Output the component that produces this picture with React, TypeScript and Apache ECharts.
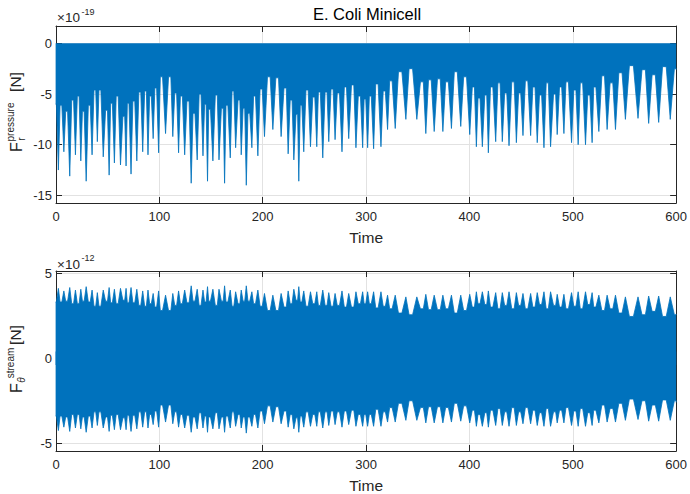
import React, { useEffect, useRef } from "react";
import * as echarts from "echarts";

const chartTitle = "E. Coli Minicell";
const xLabel = "Time";
const xTicks = [0, 100, 200, 300, 400, 500, 600];
const pressureYTicks = [-15, -10, -5, 0];
const streamYTicks = [-5, 0, 5];

// sample times of the envelope (alternating: finger top / spike)
const envTimes = [
  0, 2.3, 4.8, 7.6, 10.3, 13.3, 16.1, 18.8, 21.5, 24.0,
  26.4, 29.2, 32.2, 34.9, 37.6, 40.0, 42.5, 45.7, 48.9, 51.4,
  53.7, 56.5, 59.2, 62.4, 65.6, 67.8, 69.8, 72.6, 75.3, 78.2,
  81.1, 83.9, 86.6, 89.0, 91.4, 94.0, 96.5, 99.3, 102.0, 106.0,
  110.0, 113.0, 115.8, 118.6, 121.3, 124.5, 127.7, 130.8, 133.5, 136.6,
  139.4, 142.2, 144.5, 146.6, 148.6, 151.8, 155.1, 157.7, 160.9, 163.1,
  165.4, 168.6, 171.2, 173.8, 177.0, 179.2, 181.8, 184.1, 186.6, 189.5,
  192.1, 195.3, 198.5, 201.7, 205.9, 209.8, 214.0, 217.8, 221.7, 224.6,
  227.5, 230.1, 233.0, 234.9, 237.1, 239.7, 242.9, 246.2, 249.4, 252.3,
  254.8, 258.1, 261.3, 263.9, 267.1, 270.0, 273.2, 276.7, 280.0, 283.2,
  287.0, 290.2, 293.5, 296.7, 298.9, 301.5, 304.1, 307.3, 310.5, 314.4,
  317.6, 320.8, 324.0, 328.2, 333.0, 338.5, 343.3, 349.1, 354.0, 357.8,
  361.7, 365.9, 370.4, 374.3, 378.3, 382.6, 386.8, 391.6, 395.8, 400.3,
  403.8, 406.7, 409.3, 412.5, 415.8, 418.3, 421.5, 425.4, 428.6, 431.8,
  435.1, 438.3, 442.1, 445.4, 448.6, 451.8, 455.3, 459.2, 462.4, 465.6,
  468.8, 472.1, 475.3, 478.5, 482.4, 484.9, 488.2, 491.4, 494.6, 498.8,
  502.0, 505.2, 508.4, 512.3, 515.5, 518.7, 521.3, 525.2, 529.4, 533.2,
  537.4, 541.3, 546.1, 550.9, 556.7, 563.1, 568.6, 573.4, 578.3, 583.1,
  588.6, 594.3, 599.2, 600,
];

// F_r^pressure lower envelope (x 1e-19 N)
const pressureEnvelope = [
  -6.0, -12.5, -6.1, -10.7, -6.7, -13.1, -5.6, -11.0, -5.2, -11.6,
  -6.7, -13.6, -6.1, -11.0, -4.6, -9.7, -4.6, -11.2, -6.6, -13.0,
  -5.9, -11.8, -5.2, -12.0, -7.2, -12.1, -5.9, -12.9, -5.7, -11.6,
  -4.8, -10.7, -4.7, -11.0, -5.2, -9.4, -4.4, -10.8, -3.3, -8.9,
  -3.3, -9.2, -4.9, -10.8, -5.2, -11.0, -5.7, -13.8, -6.9, -11.5,
  -5.0, -11.1, -6.0, -13.6, -6.5, -11.6, -5.1, -11.5, -6.4, -13.8,
  -6.1, -11.3, -4.7, -10.3, -5.6, -11.0, -6.4, -14.0, -6.9, -10.3,
  -5.2, -11.1, -4.5, -9.2, -3.3, -8.5, -3.4, -9.2, -4.4, -10.9,
  -5.6, -11.5, -7.0, -13.6, -6.1, -10.7, -4.6, -10.2, -5.3, -10.2,
  -4.8, -11.3, -4.8, -9.7, -4.5, -9.5, -4.9, -10.7, -4.3, -9.4,
  -4.1, -10.3, -5.2, -10.3, -5.5, -10.3, -5.2, -10.4, -4.0, -10.2,
  -4.7, -8.5, -3.7, -8.4, -2.8, -7.5, -2.5, -7.5, -3.8, -8.9,
  -3.6, -8.7, -3.5, -8.7, -3.8, -8.4, -2.8, -8.2, -3.3, -9.0,
  -4.3, -10.2, -5.4, -10.2, -5.1, -10.8, -4.3, -9.7, -3.9, -9.7,
  -4.9, -10.1, -3.8, -9.8, -4.9, -9.1, -3.7, -9.1, -4.3, -9.8,
  -5.1, -10.3, -3.9, -10.2, -5.0, -9.0, -4.3, -8.9, -3.8, -9.8,
  -4.6, -10.0, -3.9, -10.0, -5.1, -9.8, -4.3, -8.7, -3.2, -8.5,
  -3.9, -8.5, -2.9, -7.5, -2.2, -7.4, -2.6, -7.9, -3.1, -7.8,
  -2.3, -7.5, -2.5, -2.6,
];

// F_theta^stream upper / lower envelopes (x 1e-12 N)
const streamUpper = [
  3.3, 4.1, 3.3, 3.95, 3.35, 4.15, 3.2, 4.0, 3.2, 4.05,
  3.35, 4.2, 3.3, 4.0, 3.05, 3.85, 3.05, 4.0, 3.35, 4.15,
  3.25, 4.05, 3.2, 4.1, 3.4, 4.1, 3.25, 4.15, 3.25, 4.05,
  3.1, 3.95, 3.05, 4.0, 3.2, 3.8, 3.0, 3.95, 2.8, 3.7,
  2.8, 3.8, 3.1, 3.95, 3.2, 4.0, 3.25, 4.25, 3.35, 4.05,
  3.1, 4.0, 3.3, 4.2, 3.35, 4.05, 3.1, 4.05, 3.35, 4.25,
  3.3, 4.0, 3.05, 3.9, 3.2, 4.0, 3.35, 4.25, 3.35, 3.9,
  3.2, 4.0, 3.05, 3.8, 2.8, 3.7, 2.8, 3.8, 3.0, 3.95,
  3.2, 4.05, 3.4, 4.2, 3.3, 3.95, 3.05, 3.9, 3.2, 3.9,
  3.1, 4.0, 3.1, 3.85, 3.05, 3.8, 3.1, 3.95, 3.0, 3.8,
  3.0, 3.9, 3.2, 3.9, 3.2, 3.9, 3.2, 3.9, 2.95, 3.9,
  3.05, 3.7, 2.9, 3.7, 2.65, 3.6, 2.55, 3.6, 2.9, 3.75,
  2.85, 3.7, 2.85, 3.7, 2.9, 3.7, 2.65, 3.7, 2.8, 3.75,
  3.0, 3.9, 3.2, 3.9, 3.15, 3.95, 3.0, 3.85, 2.9, 3.85,
  3.1, 3.9, 2.9, 3.85, 3.1, 3.8, 2.9, 3.8, 3.0, 3.85,
  3.15, 3.9, 2.9, 3.9, 3.1, 3.75, 3.0, 3.75, 2.9, 3.85,
  3.05, 3.9, 2.9, 3.9, 3.15, 3.85, 3.0, 3.7, 2.8, 3.7,
  2.9, 3.7, 2.65, 3.6, 2.45, 3.6, 2.55, 3.65, 2.75, 3.65,
  2.45, 3.6, 2.55, 2.6,
];

const streamLower = [
  -3.4, -4.25, -3.4, -4.05, -3.45, -4.3, -3.3, -4.1, -3.3, -4.15,
  -3.45, -4.35, -3.4, -4.1, -3.15, -3.95, -3.15, -4.1, -3.45, -4.3,
  -3.35, -4.2, -3.3, -4.2, -3.5, -4.2, -3.35, -4.3, -3.35, -4.15,
  -3.15, -4.05, -3.15, -4.1, -3.3, -3.9, -3.1, -4.05, -2.75, -3.75,
  -2.75, -3.85, -3.15, -4.05, -3.3, -4.1, -3.35, -4.35, -3.45, -4.15,
  -3.2, -4.1, -3.4, -4.35, -3.45, -4.15, -3.2, -4.15, -3.45, -4.35,
  -3.4, -4.1, -3.15, -4.0, -3.3, -4.1, -3.45, -4.4, -3.45, -4.0,
  -3.3, -4.1, -3.1, -3.85, -2.8, -3.75, -2.85, -3.85, -3.1, -4.05,
  -3.3, -4.15, -3.5, -4.35, -3.4, -4.05, -3.15, -4.0, -3.3, -4.0,
  -3.15, -4.1, -3.15, -3.95, -3.1, -3.9, -3.15, -4.05, -3.1, -3.9,
  -3.05, -4.0, -3.3, -4.0, -3.3, -4.0, -3.3, -4.0, -3.0, -4.0,
  -3.15, -3.75, -2.9, -3.75, -2.65, -3.65, -2.5, -3.65, -2.9, -3.8,
  -2.85, -3.8, -2.85, -3.8, -2.9, -3.75, -2.65, -3.7, -2.8, -3.8,
  -3.05, -4.0, -3.3, -4.0, -3.2, -4.05, -3.05, -3.95, -2.95, -3.95,
  -3.15, -4.0, -2.9, -3.95, -3.15, -3.85, -2.9, -3.85, -3.05, -3.95,
  -3.2, -4.0, -2.95, -4.0, -3.15, -3.8, -3.05, -3.8, -2.9, -3.95,
  -3.1, -4.0, -2.95, -4.0, -3.2, -3.95, -3.05, -3.8, -2.75, -3.75,
  -2.95, -3.75, -2.65, -3.65, -2.4, -3.6, -2.5, -3.7, -2.75, -3.7,
  -2.45, -3.65, -2.5, -2.6,
];

const FONT = "'Liberation Sans', Arial, Helvetica, sans-serif";
const AX = "#262626";
const GRID = "#e2e2e2";
const BLUE = "#0072BD";

function txt(
  text: string,
  x: number,
  y: number,
  size: number,
  opts: { rot?: number; align?: string; italic?: boolean; color?: string } = {}
) {
  const align = opts.align || "center";
  return {
    type: "text",
    x,
    y,
    rotation: opts.rot || 0,
    silent: true,
    style: {
      text,
      fill: opts.color || AX,
      fontSize: size,
      fontFamily: FONT,
      fontStyle: opts.italic ? "italic" : "normal",
      align,
      verticalAlign: "middle",
      textAlign: align,
      textVerticalAlign: "middle",
    },
  };
}

// Turn the envelope samples into drawable points: finger samples (even index)
// are drawn as a short plateau at their read value, spikes as single points.
function envelopePoints(values: number[]) {
  const pts: number[][] = [];
  envTimes.forEach((t, i) => {
    const v = values[i];
    if (i % 2 === 0 && i < envTimes.length - 1) {
      const prev = i > 0 ? envTimes[i - 1] : t;
      const next = envTimes[i + 1];
      const h = 0.16 * (next - prev);
      pts.push([t - h, v], [t + h, v]);
    } else {
      pts.push([t, v]);
    }
  });
  return pts;
}

export default function App() {
  const ref = useRef<HTMLDivElement>(null);
  useEffect(() => {
    const chart = echarts.init(ref.current!, null, { renderer: "svg" });

    const grids = [
      { left: 56, top: 26, width: 622, height: 177 },
      { left: 56, top: 271, width: 622, height: 182 },
    ];

    const xAxisFor = (gi: number, top: boolean) => ({
      type: "value",
      gridIndex: gi,
      min: 0,
      max: 600,
      interval: 100,
      position: top ? "top" : "bottom",
      axisLine: { show: true, onZero: false, lineStyle: { color: AX, width: 1 } },
      axisTick: {
        show: true,
        inside: true,
        length: 6,
        lineStyle: { color: AX, width: 1 },
        customValues: xTicks,
      },
      axisLabel: top
        ? { show: false }
        : {
            show: true,
            color: AX,
            fontSize: 13,
            fontFamily: FONT,
            margin: 7,
            customValues: xTicks,
          },
      splitLine: top ? { show: false } : { show: true, lineStyle: { color: GRID, width: 1 } },
      name: top ? "" : xLabel,
      nameLocation: "middle",
      nameGap: 26,
      nameTextStyle: { color: AX, fontSize: 15.5, fontFamily: FONT },
    });

    const yAxisFor = (gi: number, right: boolean, min: number, max: number, ticks: number[]) => ({
      type: "value",
      gridIndex: gi,
      min,
      max,
      position: right ? "right" : "left",
      axisLine: { show: true, onZero: false, lineStyle: { color: AX, width: 1 } },
      axisTick: {
        show: true,
        inside: true,
        length: 6,
        lineStyle: { color: AX, width: 1 },
        customValues: ticks,
      },
      axisLabel: right
        ? { show: false }
        : {
            show: true,
            color: AX,
            fontSize: 13,
            fontFamily: FONT,
            margin: 4,
            customValues: ticks,
          },
      splitLine: right ? { show: false } : { show: true, lineStyle: { color: GRID, width: 1 } },
    });

    const lineCommon = {
      type: "line",
      showSymbol: false,
      symbol: "none",
      silent: true,
      lineStyle: { color: BLUE, width: 0.8 },
    };

    const option: any = {
      animation: false,
      backgroundColor: "#ffffff",
      grid: grids,
      xAxis: [xAxisFor(0, false), xAxisFor(0, true), xAxisFor(1, false), xAxisFor(1, true)],
      yAxis: [
        yAxisFor(0, false, -15.75, 1.71, pressureYTicks),
        yAxisFor(0, true, -15.75, 1.71, pressureYTicks),
        yAxisFor(1, false, -5.45, 5.12, streamYTicks),
        yAxisFor(1, true, -5.45, 5.12, streamYTicks),
      ],
      series: [
        {
          ...lineCommon,
          xAxisIndex: 0,
          yAxisIndex: 0,
          data: envelopePoints(pressureEnvelope),
          areaStyle: { color: BLUE, opacity: 1 },
        },
        {
          ...lineCommon,
          xAxisIndex: 2,
          yAxisIndex: 2,
          data: envelopePoints(streamUpper),
          areaStyle: { color: BLUE, opacity: 1, origin: -0.4 },
        },
        {
          ...lineCommon,
          xAxisIndex: 2,
          yAxisIndex: 2,
          data: envelopePoints(streamLower),
          areaStyle: { color: BLUE, opacity: 1, origin: 0.4 },
        },
      ],
      graphic: [
        txt(chartTitle, 367, 14, 16.5, { color: "#000" }),
        txt("\u00d710", 57, 17.5, 13.5, { align: "left" }),
        txt("-19", 81.5, 12, 9, { align: "left" }),
        txt("\u00d710", 57, 264, 13.5, { align: "left" }),
        txt("-12", 81.5, 257.5, 9, { align: "left" }),
        // top y label
        txt("F", 16, 147, 16, { rot: Math.PI / 2 }),
        txt("pressure", 10, 122, 10, { rot: Math.PI / 2 }),
        txt("r", 21.5, 139, 10, { rot: Math.PI / 2 }),
        txt("[N]", 15.5, 82, 15.5, { rot: Math.PI / 2 }),
        // bottom y label
        txt("F", 16, 388, 16, { rot: Math.PI / 2 }),
        txt("stream", 10, 363, 10, { rot: Math.PI / 2 }),
        txt("\u03b8", 21.5, 380, 10, { rot: Math.PI / 2, italic: true }),
        txt("[N]", 15.5, 335, 15.5, { rot: Math.PI / 2 }),
      ],
    };

    chart.setOption(option);
    return () => chart.dispose();
  }, []);

  return (
    <div
      ref={ref}
      style={{ position: "fixed", left: 0, top: 0, width: 690, height: 494, background: "#fff" }}
    />
  );
}
